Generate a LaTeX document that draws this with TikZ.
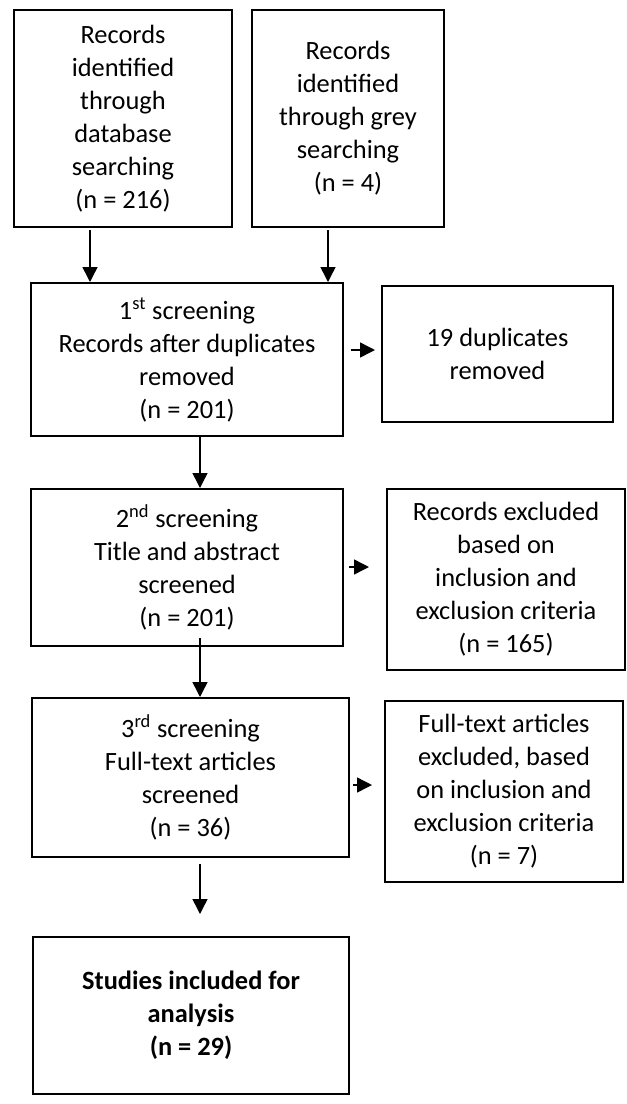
\documentclass[tikz,border=0pt]{standalone}
\usepackage{fontspec}
\setmainfont{Carlito}
\usetikzlibrary{arrows.meta}
\begin{document}
\begin{tikzpicture}[x=0.75pt,y=-0.75pt,
  box/.style 2 args={draw, line width=1.5pt, rectangle, inner sep=0pt, align=center,
    minimum width=#1, minimum height=#2, font=\fontsize{19.8}{24.75}\selectfont},
  arr/.style={line width=1.1pt, -{Triangle[length=11.25pt,width=11.25pt]}}]
\useasboundingbox (0,0) rectangle (627,1104);
\node[box={163.5pt}{162.75pt}] (A) at (123,118.5) {Records\\identified\\through\\database\\searching\\(n = 216)};
\node[box={144pt}{162.75pt}] (B) at (348,118.5) {Records\\identified\\through grey\\searching\\(n = 4)};
\node[box={234pt}{114.75pt}] (C) at (187,359.5) {1\textsuperscript{st} screening\\Records after duplicates\\removed\\(n = 201)};
\node[box={173.25pt}{102pt}] (D) at (497.5,354) {19 duplicates\\removed};
\node[box={234pt}{117.75pt}] (E) at (187,567.5) {2\textsuperscript{nd} screening\\Title and abstract\\screened\\(n = 201)};
\node[box={178.5pt}{135.75pt}] (F) at (506,579.5) {Records excluded\\based on\\inclusion and\\exclusion criteria\\(n = 165)};
\node[box={237.75pt}{119.25pt}] (G) at (190.5,777.5) {3\textsuperscript{rd} screening\\Full-text articles\\screened\\(n = 36)};
\node[box={178.5pt}{135.75pt}] (H) at (504,791.5) {Full-text articles\\excluded, based\\on inclusion and\\exclusion criteria\\(n = 7)};
\node[box={237pt}{117.75pt}] (I) at (191,1015.5) {\bfseries Studies included for\\\bfseries analysis\\\bfseries (n = 29)};
% helper coordinates
\coordinate (xa) at (90,0);
\coordinate (xb) at (328,0);
\coordinate (xm) at (200,0);
\coordinate (ycd) at (0,350);
\coordinate (yef) at (0,567);
\coordinate (ygh) at (0,785);
\path (A.south) ++(0,2) coordinate (a1);
\path (B.south) ++(0,2) coordinate (b1);
\path (E.south) ++(0,-9) coordinate (e1);
\path (G.south) ++(0,6) coordinate (g1);
\path (I.north) ++(0,-22) coordinate (i1);
\path (C.east) ++(7,0) coordinate (c1);
\path (D.west) ++(-6,0) coordinate (d1);
\path (E.east) ++(5,0) coordinate (e2);
\path (F.west) ++(-17,0) coordinate (f1);
\path (G.east) ++(3,0) coordinate (g2);
\path (H.west) ++(-12,0) coordinate (h1);
% connectors
\draw[arr] (a1 -| xa) -- (C.north -| xa);
\draw[arr] (b1 -| xb) -- (C.north -| xb);
\draw[arr] (C.south -| xm) -- (E.north -| xm);
\draw[arr] (e1 -| xm) -- (G.north -| xm);
\draw[arr] (g1 -| xm) -- (i1 -| xm);
\draw[arr] (c1 |- ycd) -- (d1 |- ycd);
\draw[arr] (e2 |- yef) -- (f1 |- yef);
\draw[arr] (g2 |- ygh) -- (h1 |- ygh);
\end{tikzpicture}
\end{document}
